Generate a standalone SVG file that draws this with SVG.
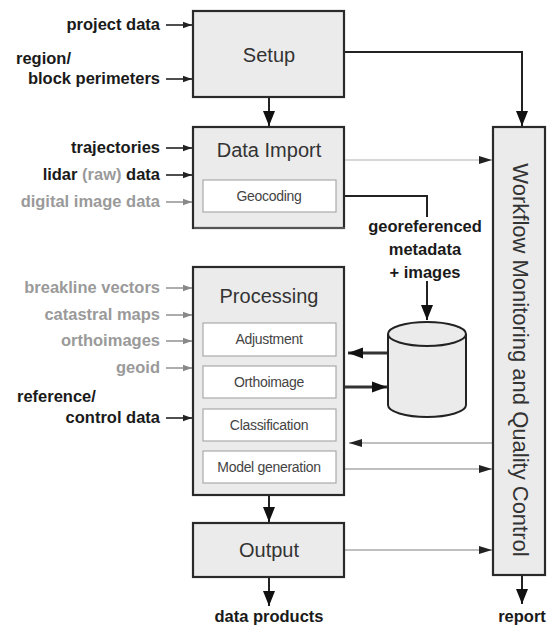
<svg xmlns="http://www.w3.org/2000/svg" width="547" height="628" viewBox="0 0 547 628">
<defs>
<style>
.box{fill:#ebebeb;stroke:#2a2a2a;stroke-width:2.2}
.inner{fill:#ffffff;stroke:#aaaaaa;stroke-width:1.2}
.title{font-family:"Liberation Sans",Arial,sans-serif;font-size:20px;fill:#333;text-anchor:middle}
.sub{font-family:"Liberation Sans",Arial,sans-serif;font-size:14px;fill:#444;text-anchor:middle;letter-spacing:-0.3px}
.lbl{font-family:"Liberation Sans",Arial,sans-serif;font-size:16.5px;font-weight:bold;fill:#1a1a1a;text-anchor:end}
.lblg{font-family:"Liberation Sans",Arial,sans-serif;font-size:16.5px;font-weight:bold;fill:#9a9a9a;text-anchor:end}
.lblc{font-family:"Liberation Sans",Arial,sans-serif;font-size:16.5px;font-weight:bold;fill:#1a1a1a;text-anchor:middle}
.in{stroke:#222;stroke-width:1.6;fill:none}
.ing{stroke:#999;stroke-width:1.6;fill:none}
.main{stroke:#222;stroke-width:2;fill:none}
.thin{stroke:#aaa;stroke-width:1.5;fill:none}
.faint{stroke:#d8d8d8;stroke-width:2;fill:none}
.thick{stroke:#333;stroke-width:3;fill:none}
</style>
<marker id="aSmall" markerUnits="userSpaceOnUse" markerWidth="10" markerHeight="8" refX="9" refY="4" orient="auto"><path d="M0,0.8 L9,4 L0,7.2 z" fill="#222"/></marker>
<marker id="aSmallG" markerUnits="userSpaceOnUse" markerWidth="10" markerHeight="8" refX="9" refY="4" orient="auto"><path d="M0,0.8 L9,4 L0,7.2 z" fill="#888"/></marker>
<marker id="aBig" markerUnits="userSpaceOnUse" markerWidth="16" markerHeight="12" refX="15" refY="6" orient="auto"><path d="M0,0 L15,6 L0,12 z" fill="#111"/></marker>
<marker id="aMid" markerUnits="userSpaceOnUse" markerWidth="14" markerHeight="10" refX="13" refY="5" orient="auto"><path d="M0,1 L13,5 L0,9 z" fill="#222"/></marker>
<marker id="aThick" markerUnits="userSpaceOnUse" markerWidth="16" markerHeight="12" refX="15" refY="6" orient="auto"><path d="M0,0.5 L15,6 L0,11.5 z" fill="#111"/></marker>
</defs>

<g id="connectors">
  <line class="in" x1="166" y1="25" x2="192" y2="25" marker-end="url(#aSmall)"/>
  <line class="in" x1="166" y1="79" x2="192" y2="79" marker-end="url(#aSmall)"/>
  <line class="in" x1="166" y1="148" x2="192" y2="148" marker-end="url(#aSmall)"/>
  <line class="in" x1="166" y1="175" x2="192" y2="175" marker-end="url(#aSmall)"/>
  <line class="ing" x1="166" y1="202" x2="192" y2="202" marker-end="url(#aSmallG)"/>
  <line class="ing" x1="166" y1="288" x2="192" y2="288" marker-end="url(#aSmallG)"/>
  <line class="ing" x1="166" y1="315" x2="192" y2="315" marker-end="url(#aSmallG)"/>
  <line class="ing" x1="166" y1="341" x2="192" y2="341" marker-end="url(#aSmallG)"/>
  <line class="ing" x1="166" y1="368" x2="192" y2="368" marker-end="url(#aSmallG)"/>
  <line class="in" x1="166" y1="418" x2="192" y2="418" marker-end="url(#aSmall)"/>
  <line class="main" x1="269" y1="97" x2="269" y2="126" marker-end="url(#aBig)"/>
  <line class="main" x1="269" y1="495" x2="269" y2="522" marker-end="url(#aBig)"/>
  <line class="main" x1="269" y1="577" x2="269" y2="606" marker-end="url(#aBig)"/>
  <line class="main" x1="522" y1="575" x2="522" y2="604" marker-end="url(#aBig)"/>
  <polyline class="main" points="344,52 522,52 522,126" marker-end="url(#aBig)"/>
  <polyline class="main" points="344,196 427,196 427,217"/>
  <line class="main" x1="427" y1="281" x2="427" y2="320" marker-end="url(#aBig)"/>
  <line class="thick" x1="388" y1="353" x2="348" y2="353" marker-end="url(#aThick)"/>
  <line class="thick" x1="345" y1="387" x2="387" y2="387" marker-end="url(#aThick)"/>
  <line class="faint" x1="344" y1="160" x2="492" y2="160" marker-end="url(#aMid)"/>
  <line class="thin" x1="493" y1="443" x2="349" y2="443" marker-end="url(#aMid)"/>
  <line class="thin" x1="344" y1="469" x2="492" y2="469" marker-end="url(#aMid)"/>
  <line class="thin" x1="344" y1="550" x2="492" y2="550" marker-end="url(#aMid)"/>
</g>

<g id="labels">
  <text class="lbl" x="160" y="30">project data</text>
  <text class="lbl" x="16" y="64" style="text-anchor:start">region/</text>
  <text class="lbl" x="160" y="84">block perimeters</text>
  <text class="lbl" x="160" y="153">trajectories</text>
  <text class="lbl" x="160" y="180">lidar <tspan fill="#9a9a9a">(raw)</tspan> data</text>
  <text class="lblg" x="160" y="207">digital image data</text>
  <text class="lblg" x="160" y="293">breakline vectors</text>
  <text class="lblg" x="160" y="320">catastral maps</text>
  <text class="lblg" x="160" y="346">orthoimages</text>
  <text class="lblg" x="160" y="373">geoid</text>
  <text class="lbl" x="17" y="402" style="text-anchor:start">reference/</text>
  <text class="lbl" x="160" y="423">control data</text>
  <text class="lblc" x="425" y="232">georeferenced</text>
  <text class="lblc" x="425" y="255">metadata</text>
  <text class="lblc" x="425" y="278">+ images</text>
  <text class="lblc" x="269" y="622">data products</text>
  <text class="lblc" x="522" y="622">report</text>
</g>

<g id="setup">
  <rect class="box" x="193" y="11" width="151" height="86"/>
  <text class="title" x="269" y="62">Setup</text>
</g>

<g id="data-import">
  <rect class="box" x="193" y="127" width="151" height="101"/>
  <line x1="194" y1="228" x2="345" y2="228" stroke="#555" stroke-width="2"/>
  <text class="title" x="269" y="157">Data Import</text>
  <g id="geocoding">
    <rect class="inner" x="203" y="180" width="133" height="32"/>
    <text class="sub" x="269" y="201">Geocoding</text>
  </g>
</g>

<g id="processing">
  <rect class="box" x="193" y="267" width="151" height="228"/>
  <text class="title" x="269" y="303">Processing</text>
  <g id="adjustment">
    <rect class="inner" x="203" y="323" width="133" height="33"/>
    <text class="sub" x="269" y="344">Adjustment</text>
  </g>
  <g id="orthoimage">
    <rect class="inner" x="203" y="366" width="133" height="32"/>
    <text class="sub" x="269" y="387">Orthoimage</text>
  </g>
  <g id="classification">
    <rect class="inner" x="203" y="409" width="133" height="32"/>
    <text class="sub" x="269" y="430">Classification</text>
  </g>
  <g id="model-generation">
    <rect class="inner" x="203" y="451" width="133" height="32"/>
    <text class="sub" x="269" y="472">Model generation</text>
  </g>
</g>

<g id="output">
  <rect class="box" x="193" y="523" width="151" height="54"/>
  <text class="title" x="269" y="557">Output</text>
</g>

<g id="workflow">
  <rect class="box" x="493" y="127" width="52" height="448"/>
  <text class="title" transform="translate(513,360) rotate(90)" style="font-size:22px">Workflow Monitoring and Quality Control</text>
</g>

<g id="database">
  <path d="M388,334 L388,405 A39,12 0 0 0 466,405 L466,334" fill="#ebebeb" stroke="#222" stroke-width="2"/>
  <ellipse cx="427" cy="334" rx="39" ry="12" fill="#ebebeb" stroke="#222" stroke-width="2"/>
</g>
</svg>
